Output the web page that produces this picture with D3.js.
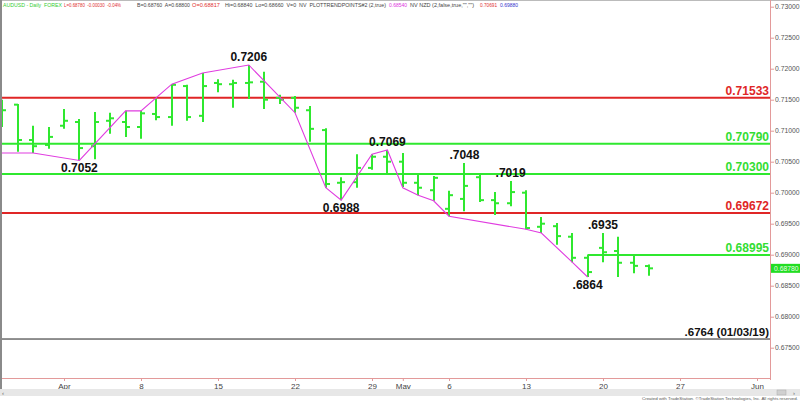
<!DOCTYPE html>
<html><head><meta charset="utf-8">
<script src="https://cdn.jsdelivr.net/npm/d3@7"></script>
<style>body{margin:0;background:#fff;overflow:hidden}svg{display:block;font-family:Arial,"Liberation Sans",sans-serif}.pre{white-space:pre}</style>
</head><body><svg id="c" width="800" height="402"></svg>
<script>
// ---------- data ----------
const dates = ["2019-03-26","2019-03-27","2019-03-28","2019-03-29",
 "2019-04-01","2019-04-02","2019-04-03","2019-04-04","2019-04-05",
 "2019-04-08","2019-04-09","2019-04-10","2019-04-11","2019-04-12",
 "2019-04-15","2019-04-16","2019-04-17","2019-04-18","2019-04-19",
 "2019-04-22","2019-04-23","2019-04-24","2019-04-25","2019-04-26",
 "2019-04-29","2019-04-30","2019-05-01","2019-05-02","2019-05-03",
 "2019-05-06","2019-05-07","2019-05-08","2019-05-09","2019-05-10",
 "2019-05-13","2019-05-14","2019-05-15","2019-05-16","2019-05-17",
 "2019-05-20","2019-05-21","2019-05-22","2019-05-23"];
const opens = [0.7140,0.7142,0.7085,0.7077,0.7108,0.7114,0.7075,0.7116,0.7114,
 0.7106,0.7127,0.7122,0.7172,0.7124,0.7177,0.7175,0.7177,0.7179,0.7153,
 0.7153,0.7133,0.7101,0.7016,0.7017,0.7040,0.7058,0.7050,0.7016,0.7004,
 0.6974,0.6990,0.7025,0.6988,0.6983,0.7000,0.6945,0.6946,0.6929,0.6895,
 0.6911,0.6906,0.6887,0.68817];
const highs = [0.7150,0.7143,0.7108,0.7106,0.7135,0.7119,0.7130,0.7129,0.7132,
 0.7132,0.7151,0.7175,0.7174,0.7193,0.7183,0.7182,0.7206,0.7195,0.7158,
 0.7156,0.7140,0.7104,0.7025,0.7062,0.7062,0.7069,0.7064,0.7029,0.7027,
 0.7003,0.7048,0.7030,0.7001,0.7019,0.7004,0.6961,0.6951,0.6935,0.6900,
 0.6935,0.6929,0.6900,0.68840];
const lows = [0.7106,0.7066,0.7064,0.7071,0.7103,0.7052,0.7054,0.7095,0.7090,
 0.7087,0.7117,0.7108,0.7116,0.7114,0.7162,0.7137,0.7151,0.7135,0.7143,
 0.7129,0.7082,0.7008,0.6988,0.7008,0.7037,0.7030,0.7009,0.6996,0.6987,
 0.6962,0.6970,0.6985,0.6964,0.6978,0.6941,0.6935,0.6916,0.6888,0.6864,
 0.6888,0.6864,0.6870,0.68660];
const closes = [0.7133,0.7085,0.7075,0.7090,0.7116,0.7072,0.7114,0.7120,0.7106,
 0.7128,0.7122,0.7174,0.7122,0.7172,0.7175,0.7177,0.7178,0.7150,0.7150,
 0.7137,0.7103,0.7014,0.7017,0.7040,0.7058,0.7050,0.7016,0.7008,0.7024,
 0.6996,0.7011,0.6988,0.6983,0.7001,0.6943,0.6950,0.6930,0.6895,0.6872,
 0.6904,0.6887,0.6882,0.68780];

const trendDates = ["2019-03-25","2019-03-28","2019-04-02","2019-04-05","2019-04-08",
 "2019-04-10","2019-04-12","2019-04-17","2019-04-22","2019-04-24","2019-04-25",
 "2019-04-29","2019-04-30","2019-05-01","2019-05-02","2019-05-03","2019-05-06",
 "2019-05-13","2019-05-14","2019-05-16","2019-05-17"];
const trendValues = [0.7064,0.7064,0.7052,0.7132,0.7132,0.7175,0.7193,0.7206,0.7129,
 0.7008,0.6988,0.7062,0.7069,0.7008,0.6996,0.6987,0.6962,0.6941,0.6935,0.6888,0.6864];

const peakDates = ["2019-04-17","2019-04-02","2019-04-25","2019-04-30","2019-05-07","2019-05-10","2019-05-20","2019-05-17"];
const peakTexts = ["0.7206","0.7052","0.6988","0.7069",".7048",".7019",".6935",".6864"];
const peakValues = [0.7206,0.7052,0.6988,0.7069,0.7048,0.7019,0.6935,0.6864];
const peakSides = ["above","below","below","above","above","above","above","below"];

const levelValues = [0.71533,0.70790,0.70300,0.69672,0.68995];
const levelTexts = ["0.71533","0.70790","0.70300","0.69672","0.68995"];
const levelKinds = ["red","green","green","red","green"];
const levelStarts = [null,null,null,null,"2019-05-17"];

const supportValue = 0.6764;
const supportText = ".6764 (01/03/19)";

const yTicks = [0.730,0.725,0.720,0.715,0.710,0.705,0.700,0.695,0.690,0.685,0.680,0.675];
const xTickDates = ["2019-04-01","2019-04-08","2019-04-15","2019-04-22","2019-04-29","2019-05-01","2019-05-06","2019-05-13","2019-05-20","2019-05-27","2019-06-03"];
const xTickLabels = ["Apr","8","15","22","29","May","6","13","20","27","Jun"];
const lastPrice = 0.68780;

const headerTexts = ["AUDUSD - Daily  FOREX","L=0.68780  -0.00030  -0.04%",
 "B=0.68760  A=0.68800","O=0.68817",
 "Hi=0.68840  Lo=0.68660  V=0  NV  PLOTTRENDPOINTS#2 (2,true)",
 "0.68540","NV NZD (2,false,true,\"\",\"\")","0.70691","0.69880"];
const footerText = "Created with TradeStation. ©TradeStation Technologies, Inc. All rights reserved.";

// ---------- scales ----------
const fmt = d3.timeFormat("%Y-%m-%d");
const cal = d3.timeDay.range(new Date(2019,2,25), new Date(2019,5,8))
  .filter(d => d.getDay() > 0 && d.getDay() < 6).map(fmt);
const idx = new Map(cal.map((d,i)=>[d,i]));
const xi = d3.scaleLinear().domain([0, 50]).range([-13, -13 + 50*15.4]);
const x = d => xi(idx.get(d));
const y = d3.scaleLinear().domain([0.730, 0.675]).range([6.7, 347.7]);

const GREEN = "#2fe82f", RED = "#e02626", MAG = "#e03ce0", AX = "#e39a9a";
const svg = d3.select("#c");
const W = 800, PR = 770, PB = 378;

svg.append("defs").append("clipPath").attr("id","pc")
  .append("rect").attr("x",2).attr("y",0).attr("width",PR-2).attr("height",PB);

// borders
svg.append("line").attr("x1",0).attr("x2",W).attr("y1",0.5).attr("y2",0.5).attr("stroke","#bbb");
svg.append("rect").attr("x",0).attr("y",0).attr("width",2).attr("height",389).attr("fill","#8a8a8a");

const plot = svg.append("g").attr("clip-path","url(#pc)");

// horizontal levels
levelValues.forEach((v,i)=>{
  const x1 = levelStarts[i] ? x(levelStarts[i]) : 0;
  plot.append("line").attr("x1",x1).attr("x2",PR).attr("y1",y(v)).attr("y2",y(v))
    .attr("stroke", levelKinds[i]==="red"?RED:GREEN).attr("stroke-width",2);
});
plot.append("line").attr("x1",0).attr("x2",PR).attr("y1",y(supportValue)).attr("y2",y(supportValue))
  .attr("stroke","#222").attr("stroke-width",1);

// bars
const bars = plot.append("g").attr("stroke",GREEN).attr("stroke-width",2);
dates.forEach((d,i)=>{
  const cx = Math.round(x(d));
  bars.append("line").attr("x1",cx).attr("x2",cx).attr("y1",y(highs[i])).attr("y2",y(lows[i]));
  bars.append("line").attr("x1",cx-4).attr("x2",cx).attr("y1",y(opens[i])).attr("y2",y(opens[i]));
  bars.append("line").attr("x1",cx).attr("x2",cx+4).attr("y1",y(closes[i])).attr("y2",y(closes[i]));
});

// trend line
plot.append("path")
  .attr("d", d3.line().x((d,i)=>x(trendDates[i])).y(d=>y(d))(trendValues))
  .attr("fill","none").attr("stroke",MAG).attr("stroke-width",1.1);

// peak labels
peakTexts.forEach((t,i)=>{
  const yy = y(peakValues[i]);
  svg.append("text").attr("x",x(peakDates[i])).attr("y", peakSides[i]==="above"? yy-4 : yy+12)
    .attr("text-anchor","middle").attr("font-size",12).attr("font-weight","bold").attr("fill","#111").text(t);
});

// level labels
levelValues.forEach((v,i)=>{
  svg.append("text").attr("x",769).attr("y",y(v)-3).attr("text-anchor","end")
    .attr("font-size",12).attr("font-weight","bold")
    .attr("fill", levelKinds[i]==="red"?RED:"#33dd33").text(levelTexts[i]);
});
svg.append("text").attr("x",769).attr("y",y(supportValue)-3).attr("text-anchor","end")
  .attr("font-size",11.5).attr("font-weight","bold").attr("fill","#111").text(supportText);

// right axis
const ya = svg.append("g").attr("transform",`translate(${PR},0)`)
  .call(d3.axisRight(y).tickValues(yTicks).tickFormat(d3.format(".5f")).tickSize(4).tickPadding(1));
ya.select(".domain").remove();
ya.selectAll("line").attr("stroke",AX);
ya.selectAll("text").attr("font-size",6.8).attr("fill","#555").attr("font-family","Arial, 'Liberation Sans', sans-serif");
svg.append("line").attr("x1",PR+0.5).attr("x2",PR+0.5).attr("y1",0).attr("y2",PB+2).attr("stroke",AX);

// last price marker
svg.append("rect").attr("x",PR+1).attr("y",y(lastPrice)-4.5).attr("width",W-PR-1).attr("height",9).attr("fill","#22dd22");
svg.append("text").attr("x",PR+4).attr("y",y(lastPrice)+2.5).attr("font-size",6.8).attr("fill","#e8ffe8").text(d3.format(".5f")(lastPrice));

// bottom axis
const xa = svg.append("g").attr("transform",`translate(0,${PB})`)
  .call(d3.axisBottom(xi).tickValues(xTickDates.map(d=>idx.get(d))).tickFormat((d,i)=>xTickLabels[i]).tickSize(3).tickPadding(2));
xa.select(".domain").remove();
xa.selectAll("line").attr("stroke",AX);
xa.selectAll("text").attr("font-size",8).attr("fill","#444").attr("font-family","Arial, 'Liberation Sans', sans-serif");
svg.append("line").attr("x1",2).attr("x2",PR+1).attr("y1",PB+0.5).attr("y2",PB+0.5).attr("stroke",AX);

// scrollbar & footer
svg.append("rect").attr("x",0).attr("y",389).attr("width",W).attr("height",7).attr("fill","#e7e7e7");
svg.append("rect").attr("x",777).attr("y",390).attr("width",9).attr("height",5).attr("fill","#d0d0d0").attr("stroke","#aaa").attr("stroke-width",0.5);
svg.append("text").attr("x",793).attr("y",395).attr("font-size",6).attr("fill","#666").text("›");
svg.append("text").attr("x",2).attr("y",395).attr("font-size",6).attr("fill","#666").text("‹");
svg.append("text").attr("x",642).attr("y",400).attr("font-size",4.1).attr("fill","#555")
  .attr("textLength",156).attr("lengthAdjust","spacingAndGlyphs").text(footerText);

// header (positions / widths / colours per group)
const hx = [3,64,137,192,225,389,410,480,500];
const hw = [59,57,53,28,161,18,64,17,18];
const hc = ["#3c3","#e03030","#444","#e03030","#444","#d3d","#444","#e03030","#33c"];
headerTexts.forEach((t,i)=>svg.append("text").attr("class","pre").attr("x",hx[i]).attr("y",7).attr("font-size",5)
  .attr("fill",hc[i]).attr("textLength",hw[i]).attr("lengthAdjust","spacingAndGlyphs").text(t));
</script></body></html>
